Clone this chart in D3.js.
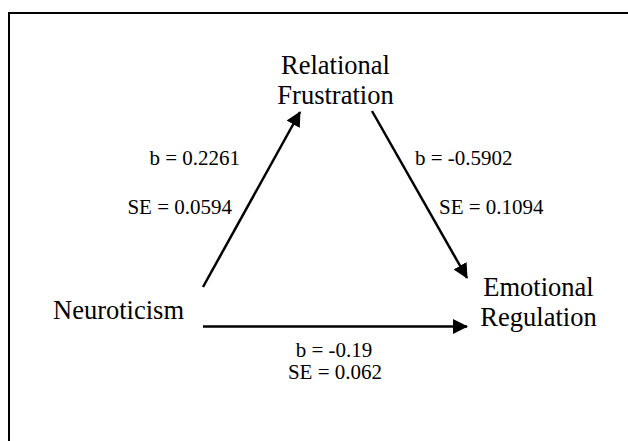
<!DOCTYPE html>
<html>
<head>
<meta charset="utf-8">
<script src="https://cdn.jsdelivr.net/npm/d3@7"></script>
<style>
    body { margin: 0; background: #fff; }
    svg text { font-family: "Liberation Serif", "Times New Roman", serif; fill: #000; }
</style>
</head>
<body>
<div id="chart"></div>
<script>
// model values
const nodeNames = ['Neuroticism', 'Relational Frustration', 'Emotional Regulation'];
const pathFrom = ['Neuroticism', 'Relational Frustration', 'Neuroticism'];
const pathTo = ['Relational Frustration', 'Emotional Regulation', 'Emotional Regulation'];
const coefB = [0.2261, -0.5902, -0.19];
const coefSE = [0.0594, 0.1094, 0.062];

document.addEventListener('DOMContentLoaded', function() {
    const width = 628, height = 441;

    // layout (pixels)
    const nodePos = {
        'Neuroticism': { x: 118.5, y: 319, lines: ['Neuroticism'] },
        'Relational Frustration': { x: 335.5, y: 74, lines: ['Relational', 'Frustration'] },
        'Emotional Regulation': { x: 538.5, y: 296, lines: ['Emotional', 'Regulation'] }
    };
    const edgeGeom = [
        { x1: 203, y1: 287, x2: 300, y2: 112, bx: 240, by: 165, sx: 232, sy: 214, anchor: 'end' },
        { x1: 372, y1: 111, x2: 467, y2: 278, bx: 415, by: 165, sx: 439, sy: 214, anchor: 'start' },
        { x1: 203, y1: 326.5, x2: 467, y2: 326.5, bx: 334, by: 357, sx: 335, sy: 379, anchor: 'middle' }
    ];

    const x = d3.scaleIdentity().domain([0, width]);
    const y = d3.scaleIdentity().domain([0, height]);

    const svg = d3.select('#chart')
        .append('svg')
        .attr('width', width)
        .attr('height', height);

    svg.append('defs').append('marker')
        .attr('id', 'head')
        .attr('markerUnits', 'userSpaceOnUse')
        .attr('viewBox', '0 0 15 15')
        .attr('markerWidth', 15)
        .attr('markerHeight', 15)
        .attr('refX', 14)
        .attr('refY', 7.5)
        .attr('orient', 'auto')
        .append('path')
        .attr('d', 'M0,0 L15,7.5 L0,15 Z')
        .attr('fill', '#000');

    // frame (top and left border)
    svg.append('path')
        .attr('d', `M${x(9)},${y(height)} L${x(9)},${y(13)} L${x(width)},${y(13)}`)
        .attr('fill', 'none')
        .attr('stroke', '#000')
        .attr('stroke-width', 2);

    const edges = pathFrom.map((f, i) => ({ from: f, to: pathTo[i], b: coefB[i], se: coefSE[i], g: edgeGeom[i] }));

    svg.selectAll('.edge')
        .data(edges)
        .enter()
        .append('line')
        .attr('class', 'edge')
        .attr('x1', d => x(d.g.x1))
        .attr('y1', d => y(d.g.y1))
        .attr('x2', d => x(d.g.x2))
        .attr('y2', d => y(d.g.y2))
        .attr('stroke', '#000')
        .attr('stroke-width', 2.5)
        .attr('marker-end', 'url(#head)');

    svg.selectAll('.b-label')
        .data(edges)
        .enter()
        .append('text')
        .attr('class', 'b-label')
        .attr('x', d => x(d.g.bx))
        .attr('y', d => y(d.g.by))
        .attr('text-anchor', d => d.g.anchor)
        .style('font-size', '21px')
        .text(d => `b = ${d.b}`);

    svg.selectAll('.se-label')
        .data(edges)
        .enter()
        .append('text')
        .attr('class', 'se-label')
        .attr('x', d => x(d.g.sx))
        .attr('y', d => y(d.g.sy))
        .attr('text-anchor', d => d.g.anchor)
        .style('font-size', '21px')
        .text(d => `SE = ${d.se}`);

    const nodes = svg.selectAll('.node')
        .data(nodeNames)
        .enter()
        .append('text')
        .attr('class', 'node')
        .attr('text-anchor', 'middle')
        .style('font-size', '26.5px');

    nodes.selectAll('tspan')
        .data(d => nodePos[d].lines.map((t, i) => ({ t, i, p: nodePos[d] })))
        .enter()
        .append('tspan')
        .attr('x', d => x(d.p.x))
        .attr('y', d => y(d.p.y + d.i * 30))
        .text(d => d.t);
});
</script>
</body>
</html>
